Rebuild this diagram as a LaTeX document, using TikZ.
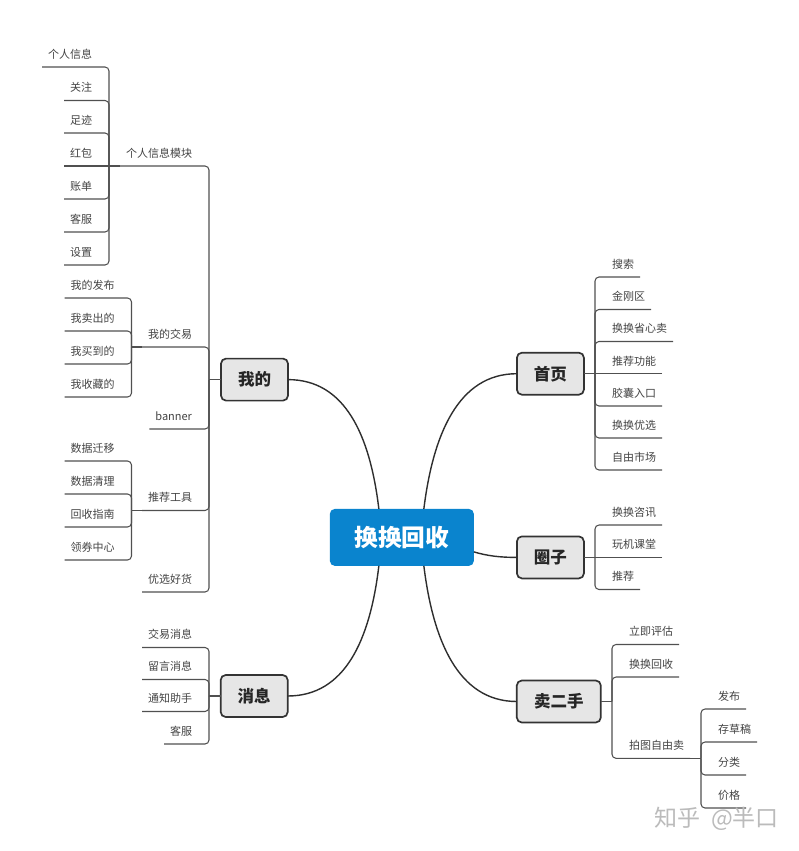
\documentclass[tikz,border=0pt]{standalone}
\usepackage{fontspec}
\setmainfont{Noto Sans CJK SC}
\usetikzlibrary{calc}
\definecolor{linec}{HTML}{505050}
\definecolor{textc}{HTML}{444444}
\definecolor{topicc}{HTML}{E6E6E6}
\definecolor{rootc}{HTML}{0A84CE}
\definecolor{markc}{HTML}{BBBBBB}
\tikzset{
  tree/.style={draw=linec,line width=1.05pt,rounded corners=4pt},
  main/.style={draw=black!82,line width=1.4pt},
  leaf/.style={inner sep=0pt,outer sep=0pt,text depth=8.6pt,text height=9pt,font=\fontsize{11}{11}\selectfont,text=textc},
  topic/.style={draw=black!80,line width=1.7pt,fill=topicc,rounded corners=5pt,inner sep=0pt,outer sep=0pt,minimum height=42pt,font=\fontsize{16.5}{16.5}\selectfont\bfseries,text=black!85},
  root/.style={fill=rootc,rounded corners=5pt,inner sep=0pt,outer sep=0pt,minimum width=144pt,minimum height=57pt,font=\fontsize{23.7}{23.7}\selectfont\bfseries,text=white}
}
\newcommand\leafL[4]{\node[leaf,anchor=south east] (#1) at (#2,#3) {\hspace*{6pt}#4\hspace*{17pt}};}
\newcommand\leafR[4]{\node[leaf,anchor=south west] (#1) at (#2,#3) {\hspace*{17pt}#4\hspace*{6pt}};}
\newcommand\linkL[2]{\draw[tree] (#2.south west) -- (#2.south east) -- (#2.south east |- #1);}
\newcommand\linkR[2]{\draw[tree] (#2.south east) -- (#2.south west) -- (#2.south west |- #1);}
\newcommand\flatL[1]{\draw[tree] (#1.south west) -- (#1.south east);}
\newcommand\flatR[1]{\draw[tree] (#1.south east) -- (#1.south west);}
\newcommand\stemL[2]{\draw[tree] (#1) -- (#2.south east |- #1);}
\newcommand\stemR[2]{\draw[tree] (#1) -- (#2.south west |- #1);}
\begin{document}
\begin{tikzpicture}[x=1pt,y=-1pt]
\useasboundingbox (0,0) rectangle (799,851);
\fill[white] (0,0) rectangle (799,851);

% main nodes
\node[root] (root) at (401.85,537.4) {换换回收};
\node[topic,minimum width=67pt] (wd) at (254.5,379.6) {我的};
\node[topic,minimum width=67pt] (xx) at (254.2,696) {消息};
\node[topic,minimum width=67pt] (sy) at (550.4,373.7) {首页};
\node[topic,minimum width=67pt] (qz) at (550.4,557.4) {圈子};
\node[topic,minimum width=84pt] (me) at (558.8,701.5) {卖二手};

\coordinate (rnl) at ($(root.north)+(-23,0)$);
\coordinate (rnr) at ($(root.north)+(22,0)$);
\coordinate (rsl) at ($(root.south)+(-23,0)$);
\coordinate (rsr) at ($(root.south)+(22,0)$);
\coordinate (rea) at ($(root.east)+(0,14.5)$);

\draw[main] (rnl) .. controls (370,435) and (345,379.6) .. (wd.east);
\draw[main] (rsl) .. controls (370,640) and (345,696) .. (xx.east);
\draw[main] (rnr) .. controls (433,435) and (458,373.7) .. (sy.west);
\draw[main] (rea) .. controls (488,556) and (500,557.4) .. (qz.west);
\draw[main] (rsr) .. controls (433,640) and (458,701.5) .. (me.west);

% 我的
\leafL{a1}{209}{166}{个人信息模块}
\leafL{a2}{209}{347}{我的交易}
\leafL{a3}{209}{429}{banner}
\leafL{a4}{209}{510.5}{推荐工具}
\leafL{a5}{209}{592}{优选好货}
\stemL{wd.west}{a1}
\linkL{wd.west}{a1}\linkL{wd.west}{a2}\linkL{wd.west}{a3}\linkL{wd.west}{a4}\linkL{wd.west}{a5}

\leafL{k1}{109}{67}{个人信息}
\leafL{k2}{109}{100.5}{关注}
\leafL{k3}{109}{133}{足迹}
\leafL{k4}{109}{166}{红包}
\leafL{k5}{109}{199}{账单}
\leafL{k6}{109}{232}{客服}
\leafL{k7}{109}{265}{设置}
\stemL{a1.south west}{k4}
\linkL{a1.south west}{k1}\linkL{a1.south west}{k2}\linkL{a1.south west}{k3}\flatL{k4}
\linkL{a1.south west}{k5}\linkL{a1.south west}{k6}\linkL{a1.south west}{k7}

\leafL{b1}{131.5}{298}{我的发布}
\leafL{b2}{131.5}{331}{我卖出的}
\leafL{b3}{131.5}{364}{我买到的}
\leafL{b4}{131.5}{397}{我收藏的}
\stemL{a2.south west}{b1}
\linkL{a2.south west}{b1}\linkL{a2.south west}{b2}\linkL{a2.south west}{b3}\linkL{a2.south west}{b4}

\leafL{c1}{131.5}{461}{数据迁移}
\leafL{c2}{131.5}{494}{数据清理}
\leafL{c3}{131.5}{527}{回收指南}
\leafL{c4}{131.5}{560}{领券中心}
\stemL{a4.south west}{c1}
\linkL{a4.south west}{c1}\linkL{a4.south west}{c2}\linkL{a4.south west}{c3}\linkL{a4.south west}{c4}

% 消息
\leafL{x1}{209}{647.5}{交易消息}
\leafL{x2}{209}{679.5}{留言消息}
\leafL{x3}{209}{711.5}{通知助手}
\leafL{x4}{209}{744}{客服}
\stemL{xx.west}{x1}
\linkL{xx.west}{x1}\linkL{xx.west}{x2}\linkL{xx.west}{x3}\linkL{xx.west}{x4}

% 首页
\leafR{s1}{595}{277}{搜索}
\leafR{s2}{595}{309.5}{金刚区}
\leafR{s3}{595}{341.5}{换换省心卖}
\leafR{s4}{595}{373.7}{推荐功能}
\leafR{s5}{595}{406}{胶囊入口}
\leafR{s6}{595}{438}{换换优选}
\leafR{s7}{595}{470}{自由市场}
\stemR{sy.east}{s4}
\linkR{sy.east}{s1}\linkR{sy.east}{s2}\linkR{sy.east}{s3}\flatR{s4}
\linkR{sy.east}{s5}\linkR{sy.east}{s6}\linkR{sy.east}{s7}

% 圈子
\leafR{q1}{595}{525}{换换咨讯}
\leafR{q2}{595}{557.4}{玩机课堂}
\leafR{q3}{595}{589.5}{推荐}
\stemR{qz.east}{q2}
\linkR{qz.east}{q1}\flatR{q2}\linkR{qz.east}{q3}

% 卖二手
\leafR{m1}{612}{644.5}{立即评估}
\leafR{m2}{612}{677}{换换回收}
\leafR{m3}{612}{758.3}{拍图自由卖}
\stemR{me.east}{m1}
\linkR{me.east}{m1}\linkR{me.east}{m2}\linkR{me.east}{m3}

\leafR{n1}{701}{709}{发布}
\leafR{n2}{701}{742}{存草稿}
\leafR{n3}{701}{775}{分类}
\leafR{n4}{701}{808}{价格}
\stemR{m3.south east}{n1}
\linkR{m3.south east}{n1}\linkR{m3.south east}{n2}\linkR{m3.south east}{n3}\linkR{m3.south east}{n4}

% watermark
\node[anchor=west,inner sep=0pt,text=markc,font=\fontsize{23}{23}\selectfont] (mark) at (654,819) {知乎\hspace{11pt}@半口};
\end{tikzpicture}
\end{document}
